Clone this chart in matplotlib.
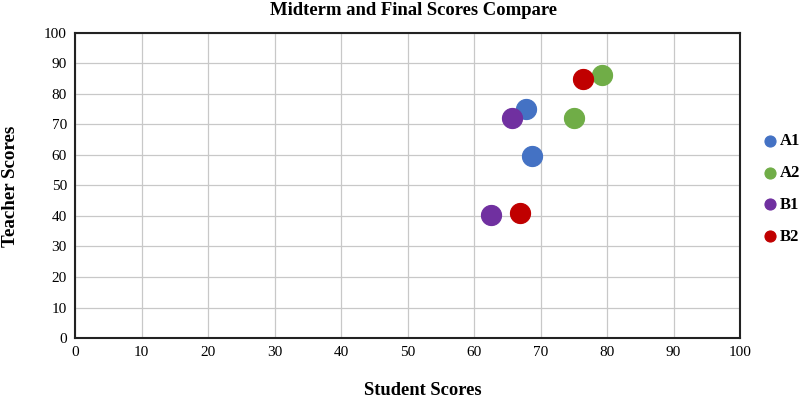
import matplotlib.pyplot as plt

groups = ["A1", "A2", "B1", "B2"]
colors = ["#4472C4", "#70AD47", "#7030A0", "#C00000"]
student = {
    "A1": [67.8, 68.7],
    "A2": [75.0, 79.3],
    "B1": [65.7, 62.6],
    "B2": [76.4, 66.9],
}
teacher = {
    "A1": [75.1, 59.7],
    "A2": [72.2, 86.3],
    "B1": [72.0, 40.4],
    "B2": [84.8, 40.9],
}

plt.rcParams['font.family'] = ['Liberation Serif', 'DejaVu Serif']

fig = plt.figure(figsize=(8, 4.01), dpi=100)
ax = fig.add_axes([0.094, 0.157, 0.831, 0.761])

for g, c in zip(groups, colors):
    ax.scatter(student[g], teacher[g], s=210, color=c, edgecolors=c, linewidths=0.8,
               label=g, zorder=3)

ax.set_xlim(0, 100)
ax.set_ylim(0, 100)
ax.set_xticks(range(0, 101, 10))
ax.set_yticks(range(0, 101, 10))
ax.tick_params(labelsize=11, length=0, pad=6)
ax.grid(True, color="#c8c8c8", linewidth=0.9)
ax.set_axisbelow(True)
for sp in ax.spines.values():
    sp.set_color("#222222")
    sp.set_linewidth(1.5)

fig.text(0.5175, 0.963, "Midterm and Final Scores Compare", fontsize=13.4,
         fontweight="bold", ha="center", va="baseline")
fig.text(0.529, 0.025, "Student Scores", fontsize=13.3, fontweight="bold",
         ha="center", va="center")
fig.text(0.0135, 0.535, "Teacher Scores", fontsize=13.7, fontweight="bold",
         ha="center", va="center", rotation=90)

leg = fig.legend(loc="center left", bbox_to_anchor=(0.95, 0.529), frameon=False,
                 markerscale=0.55, handletextpad=0.0, handlelength=1.2,
                 labelspacing=0.95, borderpad=0, borderaxespad=0,
                 prop={'size': 12, 'weight': 'bold'})

fig.savefig("out.png", dpi=100)
